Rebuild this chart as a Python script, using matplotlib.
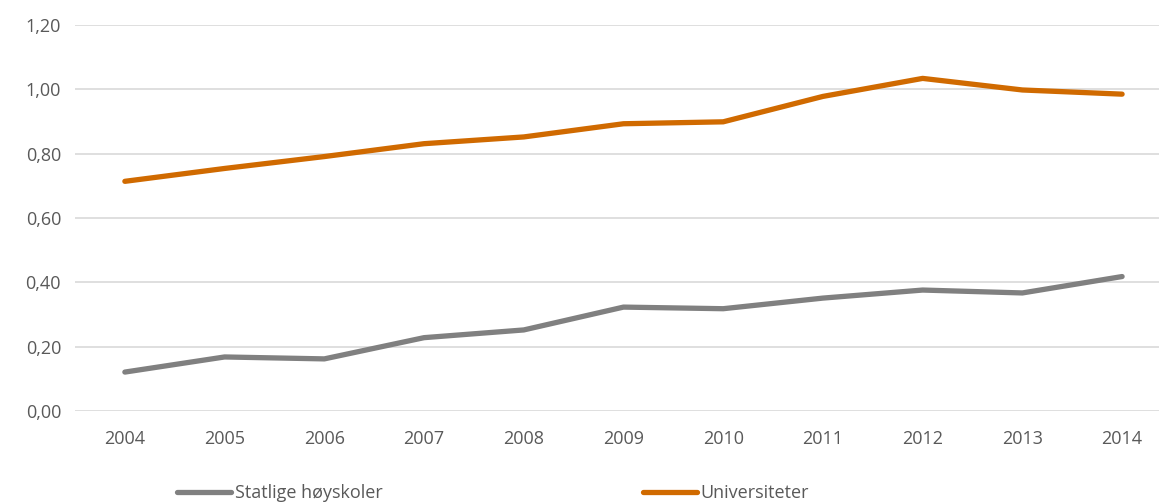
import matplotlib.pyplot as plt
from matplotlib.ticker import FuncFormatter

years = ["2004", "2005", "2006", "2007", "2008", "2009", "2010", "2011", "2012", "2013", "2014"]
statlige = [0.121, 0.168, 0.162, 0.228, 0.252, 0.323, 0.318, 0.351, 0.376, 0.367, 0.418]
universiteter = [0.714, 0.754, 0.791, 0.831, 0.852, 0.893, 0.899, 0.978, 1.034, 0.998, 0.985]

plt.rcParams["font.family"] = ["Open Sans", "DejaVu Sans"]
text_color = "#595959"

fig = plt.figure(figsize=(11.59, 5.04), dpi=100)
ax = fig.add_axes([75 / 1159, 1 - 411 / 504, 1 - 75 / 1159, 386 / 504])

x = list(range(len(years)))
ax.plot(x, statlige, color="#808080", lw=3.8, solid_capstyle="round", label="Statlige høyskoler")
ax.plot(x, universiteter, color="#D06A00", lw=3.8, solid_capstyle="round", label="Universiteter")

ax.set_ylim(0, 1.2)
ax.set_yticks([0, 0.2, 0.4, 0.6, 0.8, 1.0, 1.2])
ax.yaxis.set_major_formatter(FuncFormatter(lambda v, p: f"{v:.2f}".replace(".", ",")))
ax.set_xlim(-0.5, 10.37)
ax.set_xticks(x)
ax.set_xticklabels(years)

ax.grid(axis="y", color="#d9d9d9", lw=1.2)
ax.set_axisbelow(True)
for s in ax.spines.values():
    s.set_visible(False)
ax.tick_params(length=0, labelsize=13, colors=text_color)
ax.tick_params(axis="x", pad=14)
ax.tick_params(axis="y", pad=10)

leg = fig.legend(loc="lower left", bbox_to_anchor=(161 / 1159, -0.028), ncol=2, frameon=False,
                 fontsize=13, handlelength=3.0, handletextpad=0.2, columnspacing=14.4)
for t in leg.get_texts():
    t.set_color(text_color)

fig.savefig("out.png", dpi=100)
